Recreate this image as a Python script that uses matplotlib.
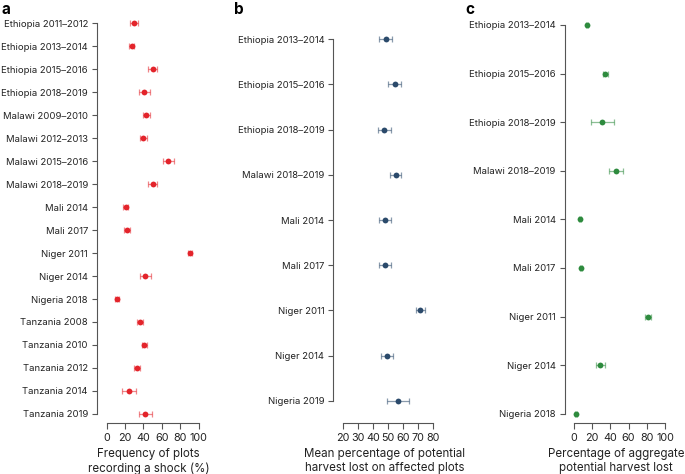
import matplotlib.pyplot as plt

plt.rcParams['font.family'] = ['Inter', 'DejaVu Sans']

# panel a: frequency of plots recording a shock (%)
labels_a = ["Ethiopia 2011\u20132012", "Ethiopia 2013\u20132014", "Ethiopia 2015\u20132016",
            "Ethiopia 2018\u20132019", "Malawi 2009\u20132010", "Malawi 2012\u20132013",
            "Malawi 2015\u20132016", "Malawi 2018\u20132019", "Mali 2014", "Mali 2017",
            "Niger 2011", "Niger 2014", "Nigeria 2018", "Tanzania 2008", "Tanzania 2010",
            "Tanzania 2012", "Tanzania 2014", "Tanzania 2019"]
freq = [30, 27, 50, 41, 43, 40, 67, 50, 20.6, 22, 90.5, 42, 11, 36, 41, 33, 24, 42]
freq_err = [4.3, 3, 5, 6, 4, 3.5, 6, 5, 3, 3, 2, 6, 2, 3, 3, 3, 7.5, 7]

# panel b: mean percentage of potential harvest lost on affected plots
labels_b = ["Ethiopia 2013\u20132014", "Ethiopia 2015\u20132016", "Ethiopia 2018\u20132019",
            "Malawi 2018\u20132019", "Mali 2014", "Mali 2017", "Niger 2011", "Niger 2014",
            "Nigeria 2019"]
mean_loss = [48.5, 54.6, 47.5, 55, 48, 48, 71.4, 49.3, 56.6]
mean_err = [4.2, 4.3, 4.3, 3.5, 3.9, 3.9, 3, 3.9, 7.3]

# panel c: percentage of aggregate potential harvest lost
labels_c = ["Ethiopia 2013\u20132014", "Ethiopia 2015\u20132016", "Ethiopia 2018\u20132019",
            "Malawi 2018\u20132019", "Mali 2014", "Mali 2017", "Niger 2011", "Niger 2014",
            "Nigeria 2018"]
agg_loss = [14.6, 34.3, 31.4, 46, 7.3, 8, 81.4, 29, 2.9]
agg_err = [1, 2.7, 12.4, 7.5, 1, 1, 3.6, 4.7, 1]

W, H = 685, 474
fig = plt.figure(figsize=(W / 100, H / 100), dpi=100)


def px_axes(left, top, right, bottom):
    return fig.add_axes([left / W, 1 - bottom / H, (right - left) / W, (bottom - top) / H])


def dot_panel(ax, labels, vals, errs, color, xlim, pad, xticks, xlabel):
    n = len(labels)
    ys = list(range(n))
    ax.errorbar(vals, ys, xerr=errs, fmt='none', ecolor=color, alpha=0.55,
                elinewidth=0.9, capsize=2.2, capthick=0.9)
    ax.plot(vals, ys, 'o', color=color, markersize=4.2, markeredgewidth=0)
    ax.set_ylim(n - 1 + pad, -pad)
    ax.set_xlim(*xlim)
    ax.set_yticks(ys)
    ax.set_yticklabels(labels)
    ax.set_xticks(xticks)
    for s in ['top', 'right']:
        ax.spines[s].set_visible(False)
    ax.spines['left'].set_bounds(0, n - 1)
    ax.spines['bottom'].set_bounds(xticks[0], xticks[-1])
    for s in ['left', 'bottom']:
        ax.spines[s].set_color('#555555')
        ax.spines[s].set_linewidth(0.8)
    ax.tick_params(axis='y', length=3.5, width=0.8, color='#555555', labelsize=6.85,
                   pad=3, labelcolor='#222222')
    ax.tick_params(axis='x', length=4, width=0.8, color='#555555', labelsize=7.8,
                   pad=3.5, labelcolor='#222222')
    ax.set_xlabel(xlabel, fontsize=8.3, labelpad=3.5, color='#222222', linespacing=1.25)
    ax.patch.set_alpha(0)


ax_a = px_axes(97, 14.3, 97 + 0.92 * 112.5, 423)
dot_panel(ax_a, labels_a, freq, freq_err, '#e3242b', (-10.5, 102), 0.4,
          [0, 20, 40, 60, 80, 100], "Frequency of plots\nrecording a shock (%)")

ax_b = px_axes(333.3, 17.3, 333.3 + 1.511 * 68.2, 422.7)
dot_panel(ax_b, labels_b, mean_loss, mean_err, '#2b4a6b', (13.8, 82), 0.48,
          [20, 30, 40, 50, 60, 70, 80],
          "Mean percentage of potential\nharvest lost on affected plots")

ax_c = px_axes(564.7, 16, 564.7 + 0.913 * 111.9, 422.7)
dot_panel(ax_c, labels_c, agg_loss, agg_err, '#2e8b3e', (-9.9, 102), 0.185,
          [0, 20, 40, 60, 80, 100], "Percentage of aggregate\npotential harvest lost")

for x, letter in [(1, 'a'), (234, 'b'), (465, 'c')]:
    fig.text(x / W, 1 - 2 / H, letter, fontsize=11, fontweight='bold', va='top', ha='left')

fig.savefig('out.png', dpi=100)
